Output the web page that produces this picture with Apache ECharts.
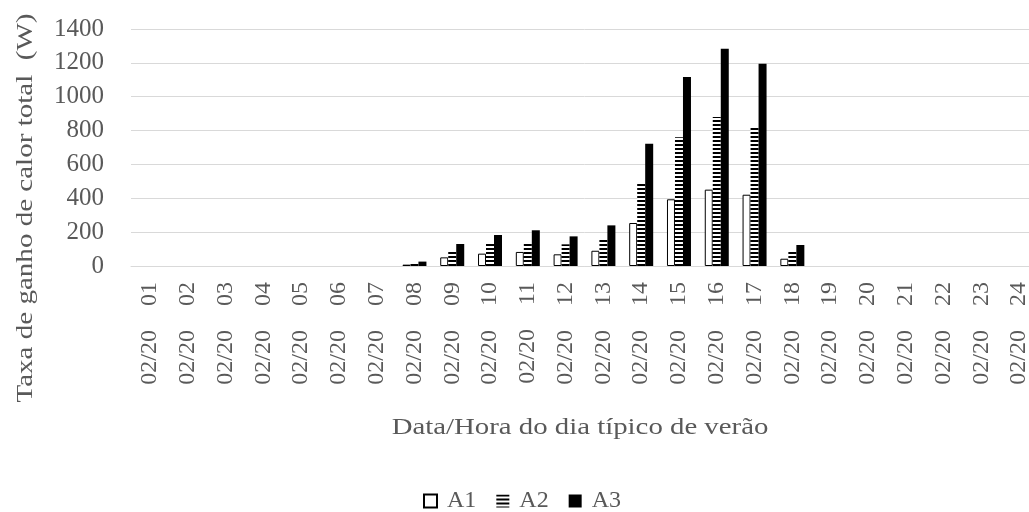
<!DOCTYPE html>
<html>
<head>
<meta charset="utf-8">
<script src="https://cdn.jsdelivr.net/npm/echarts@6/dist/echarts.min.js"></script>
<style>
  html, body { margin: 0; padding: 0; background: #fff; overflow: hidden; }
  /* the plot runs a little past the right edge of the page */
  #chart { width: 1038px; height: 512px; }
</style>
</head>
<body>
<div id="chart"></div>
<script>
// Hourly total heat gain (W) on a typical summer day, three cases
const hours = ['01','02','03','04','05','06','07','08','09','10','11','12',
               '13','14','15','16','17','18','19','20','21','22','23','24'];
const datePrefix = '02/20';
const a1 = [0,0,0,0,0,0,0,8,51,73,83,69,90,254,394,451,421,43,0,0,0,0,0,0];
const a2 = [0,0,0,0,0,0,0,12,89,130,138,128,163,496,761,880,819,83,0,0,0,0,0,0];
const a3 = [0,0,0,0,0,0,0,26,130,183,211,175,240,722,1116,1283,1194,124,0,0,0,0,0,0];
const yTicks = { min: 0, max: 1400, interval: 200 };

const FONT = '"Liberation Serif", "Times New Roman", serif';
const TEXT = '#595959';

// horizontal black/white stripes for the second series
function stripePattern() {
  const c = document.createElement('canvas');
  c.width = 4; c.height = 4;
  const g = c.getContext('2d');
  g.fillStyle = '#fff'; g.fillRect(0, 0, 4, 4);
  g.fillStyle = '#000'; g.fillRect(0, 0, 4, 2);
  return { image: c, repeat: 'repeat' };
}

const hide0 = arr => arr.map(v => (v === 0 ? '-' : v));
const categories = hours.map(h => datePrefix + '    ' + h);

const chart = echarts.init(document.getElementById('chart'), null, { renderer: 'canvas' });
chart.setOption({
  animation: false,
  backgroundColor: '#fff',
  textStyle: { fontFamily: FONT, color: TEXT },
  grid: { left: 131, top: 29, right: 0, height: 237, containLabel: false },
  legend: {
    left: 418, top: 484,
    itemWidth: 13, itemHeight: 13, itemGap: 20,
    textStyle: { fontFamily: FONT, fontSize: 24, color: TEXT, padding: [0, 0, 0, 5] },
    data: [
      { name: 'A1', icon: 'rect' },
      { name: 'A2', icon: 'rect' },
      { name: 'A3', icon: 'rect' }
    ]
  },
  xAxis: {
    type: 'category',
    data: categories,
    axisLine: { show: true, lineStyle: { color: '#d9d9d9', width: 1 } },
    axisTick: { show: false },
    axisLabel: {
      rotate: 90, interval: 0, margin: 16,
      fontFamily: FONT, fontSize: 24, color: TEXT
    }
  },
  yAxis: {
    type: 'value',
    min: yTicks.min, max: yTicks.max, interval: yTicks.interval,
    axisLine: { show: false },
    axisTick: { show: false },
    splitLine: { lineStyle: { color: '#d9d9d9', width: 1 } },
    axisLabel: {
      margin: 27, fontFamily: FONT, fontSize: 25, color: TEXT,
      formatter: v => String(v)
    }
  },
  graphic: [
    {
      type: 'text', x: 580, y: 428, scaleX: 1.2,
      style: {
        text: 'Data/Hora do dia típico de verão',
        font: '24px ' + FONT, fill: TEXT, align: 'center', verticalAlign: 'middle'
      }
    },
    {
      type: 'text', x: 26, y: 208, rotation: Math.PI / 2, scaleX: 1.21,
      style: {
        text: 'Taxa de ganho de calor total  (W)',
        font: '24px ' + FONT, fill: TEXT, align: 'center', verticalAlign: 'middle'
      }
    }
  ],
  series: [
    {
      name: 'A1', type: 'bar', data: hide0(a1), barWidth: 8, barGap: '0%',
      itemStyle: { color: '#fff', borderColor: '#000', borderWidth: 1 }
    },
    {
      name: 'A2', type: 'bar', data: hide0(a2), barWidth: 8, barGap: '0%',
      itemStyle: { color: stripePattern() }
    },
    {
      name: 'A3', type: 'bar', data: hide0(a3), barWidth: 8, barGap: '0%',
      itemStyle: { color: '#000' }
    }
  ]
});
</script>
</body>
</html>
